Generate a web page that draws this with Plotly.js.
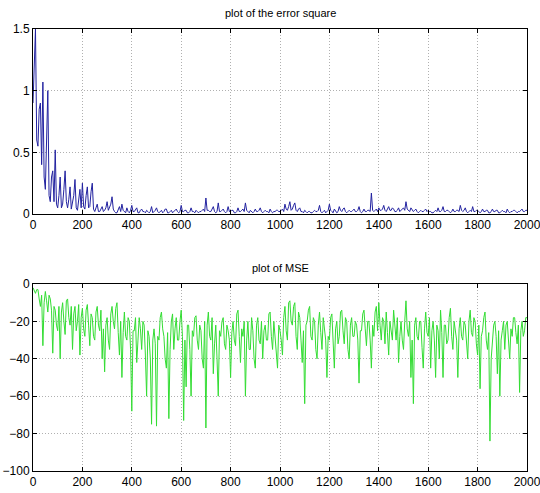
<!DOCTYPE html>
<html>
<head>
<meta charset="utf-8">
<script src="https://cdn.plot.ly/plotly-3.0.1.min.js"></script>
<style>html,body{margin:0;padding:0;background:#fff;}#chart{width:540px;height:493px;}</style>
</head>
<body>
<div id="chart"></div>
<script>
// sample spacing (iterations) of the values
var xStep = 5;

// error square, read every 5 iterations (one row = 100 iterations)
var errorSquare = [
  0.9,1.15,1.5,0.6,0.55,0.85,0.9,0.4,1.07,0.3, 0.2,0.6,1.0,0.15,0.1,0.3,0.35,0.1,0.52,0.08,
  0.05,0.15,0.3,0.05,0.08,0.2,0.35,0.1,0.05,0.12, 0.22,0.04,0.1,0.15,0.28,0.05,0.03,0.1,0.2,0.05,
  0.25,0.06,0.04,0.15,0.22,0.05,0.06,0.18,0.25,0.04, 0.02,0.05,0.08,0.02,0.02,0.04,0.06,0.02,0.03,0.05,
  0.1,0.03,0.05,0.08,0.14,0.04,0.02,0.01,0.01,0.03, 0.06,0.02,0.08,0.03,0.02,0.01,0.05,0.02,0.01,0.03,
  0.07,0.02,0.02,0.04,0.05,0.01,0.01,0.03,0.04,0.02, 0.02,0.01,0.03,0.02,0.01,0.02,0.06,0.01,0.02,0.03,
  0.05,0.02,0.01,0.02,0.03,0.01,0.02,0.04,0.04,0.01, 0.01,0.02,0.03,0.01,0.02,0.03,0.04,0.02,0.01,0.02,
  0.07,0.02,0.02,0.03,0.03,0.01,0.01,0.02,0.05,0.02, 0.02,0.01,0.03,0.02,0.01,0.02,0.02,0.03,0.04,0.02,
  0.13,0.03,0.03,0.02,0.02,0.04,0.06,0.02,0.01,0.02, 0.09,0.02,0.02,0.03,0.04,0.02,0.01,0.02,0.06,0.02,
  0.02,0.03,0.03,0.01,0.01,0.02,0.05,0.02,0.02,0.03, 0.04,0.02,0.09,0.03,0.02,0.01,0.03,0.02,0.01,0.02,
  0.04,0.02,0.02,0.03,0.05,0.02,0.01,0.02,0.03,0.02, 0.02,0.01,0.04,0.02,0.01,0.02,0.02,0.03,0.03,0.02,
  0.02,0.03,0.04,0.02,0.08,0.04,0.03,0.06,0.1,0.03, 0.04,0.07,0.09,0.03,0.02,0.04,0.05,0.02,0.02,0.01,
  0.03,0.02,0.01,0.02,0.02,0.01,0.01,0.02,0.03,0.02, 0.02,0.03,0.07,0.02,0.01,0.02,0.03,0.01,0.02,0.03,
  0.08,0.03,0.02,0.01,0.04,0.02,0.01,0.02,0.06,0.03, 0.02,0.04,0.05,0.02,0.01,0.02,0.03,0.02,0.02,0.03,
  0.04,0.02,0.02,0.03,0.06,0.02,0.01,0.02,0.04,0.02, 0.02,0.03,0.03,0.02,0.17,0.03,0.02,0.03,0.04,0.02,
  0.05,0.03,0.03,0.04,0.07,0.03,0.02,0.04,0.06,0.03, 0.03,0.05,0.04,0.02,0.02,0.03,0.05,0.02,0.03,0.04,
  0.05,0.03,0.1,0.04,0.03,0.02,0.05,0.03,0.02,0.03, 0.04,0.02,0.01,0.02,0.03,0.02,0.02,0.03,0.04,0.02,
  0.03,0.02,0.02,0.01,0.01,0.02,0.03,0.02,0.05,0.02, 0.02,0.03,0.06,0.02,0.02,0.03,0.03,0.02,0.01,0.02,
  0.04,0.02,0.02,0.03,0.03,0.02,0.07,0.03,0.02,0.03, 0.05,0.02,0.01,0.02,0.03,0.02,0.06,0.02,0.02,0.03,
  0.03,0.02,0.01,0.02,0.04,0.02,0.02,0.03,0.03,0.01, 0.01,0.02,0.04,0.02,0.02,0.03,0.03,0.01,0.01,0.02,
  0.03,0.02,0.02,0.01,0.04,0.02,0.01,0.02,0.02,0.03, 0.03,0.02,0.01,0.02,0.02,0.03,0.04,0.02,0.02,0.03,
  0.03
];

// MSE (dB), read every 5 iterations (one row = 100 iterations)
var mse = [
  -2,-4,-5,-3,-3,-8,-12,-6,-33,-10, -4,-9,-15,-6,-8,-14,-37,-12,-14,-22,
  -25,-12,-40,-15,-10,-20,-27,-9,-8,-18, -22,-12,-35,-16,-12,-25,-20,-11,-38,-18,
  -13,-24,-28,-14,-11,-22,-33,-16,-18,-28, -30,-15,-12,-22,-25,-14,-40,-24,-47,-22,
  -18,-30,-35,-16,-12,-20,-24,-13,-10,-26, -38,-20,-50,-26,-15,-28,-30,-18,-20,-35,
  -68,-25,-25,-18,-42,-30,-18,-24,-35,-20, -22,-38,-60,-25,-28,-40,-75,-30,-24,-32,
  -76,-28,-30,-18,-15,-24,-28,-40,-45,-26, -72,-35,-20,-16,-35,-24,-18,-30,-30,-20,
  -14,-28,-73,-30,-55,-22,-22,-35,-60,-25, -28,-18,-17,-30,-35,-22,-25,-40,-45,-20,
  -77,-22,-15,-28,-30,-18,-48,-32,-22,-40, -60,-25,-28,-20,-18,-32,-35,-22,-25,-30,
  -50,-26,-20,-30,-33,-16,-14,-28,-42,-24, -28,-20,-60,-30,-20,-35,-35,-18,-25,-40,
  -45,-22,-18,-30,-32,-20,-40,-25,-22,-30, -30,-16,-15,-28,-35,-20,-27,-38,-45,-22,
  -25,-30,-38,-18,-12,-25,-30,-10,-9,-20, -22,-12,-10,-28,-35,-15,-18,-30,-42,-25,
  -64,-22,-20,-14,-12,-28,-30,-18,-20,-35, -40,-22,-15,-26,-35,-18,-25,-30,-50,-28,
  -30,-18,-16,-28,-45,-24,-20,-32,-28,-15, -14,-25,-32,-18,-20,-35,-40,-22,-18,-28,
  -28,-20,-22,-30,-53,-25,-25,-16,-14,-24, -33,-20,-20,-30,-45,-22,-28,-15,-12,-25,
  -10,-22,-30,-18,-20,-32,-15,-26,-38,-20, -25,-30,-14,-22,-30,-18,-42,-28,-20,-30,
  -35,-20,-9,-24,-28,-20,-50,-30,-64,-22, -18,-28,-30,-20,-20,-34,-45,-24,-15,-26,
  -28,-18,-45,-25,-20,-30,-50,-22,-25,-40, -14,-26,-50,-22,-22,-32,-30,-18,-13,-28,
  -35,-20,-25,-30,-50,-24,-18,-28,-30,-20, -22,-34,-40,-20,-14,-26,-28,-18,-20,-32,
  -38,-22,-56,-28,-25,-18,-15,-30,-35,-26, -84,-40,-30,-22,-20,-28,-48,-25,-60,-30,
  -25,-20,-35,-22,-20,-30,-40,-24,-28,-18, -18,-26,-32,-22,-58,-25,-20,-28,-25,-18,
  -18
];

var xTicks = [0, 200, 400, 600, 800, 1000, 1200, 1400, 1600, 1800, 2000];
var errTicks = [0, 0.5, 1, 1.5];
var mseTicks = [0, -20, -40, -60, -80, -100];

function iters(arr) { return arr.map(function (_, i) { return i * xStep; }); }

var font = {family: 'Liberation Sans, Arial, sans-serif', size: 12, color: '#000'};

var axisCommon = {
  showline: true, mirror: 'ticks', linecolor: '#000', linewidth: 1,
  ticks: 'inside', ticklen: 4, tickcolor: '#000',
  showgrid: true, gridcolor: '#b0b0b0', griddash: '1px,2px', gridwidth: 1,
  zeroline: false, tickfont: font, fixedrange: true, ticklabeloverflow: 'allow'
};

function ax(extra) { return Object.assign({}, axisCommon, extra); }

var traces = [
  {x: iters(errorSquare), y: errorSquare, type: 'scatter', mode: 'lines',
   line: {color: '#2222a0', width: 1}, xaxis: 'x', yaxis: 'y', hoverinfo: 'skip'},
  {x: iters(mse), y: mse, type: 'scatter', mode: 'lines',
   line: {color: '#33dd33', width: 1}, xaxis: 'x2', yaxis: 'y2', hoverinfo: 'skip'}
];

var layout = {
  width: 540, height: 493,
  margin: {l: 33, r: 13, t: 29, b: 22},
  paper_bgcolor: '#fff', plot_bgcolor: '#fff',
  showlegend: false,
  font: font,
  xaxis: ax({domain: [0, 1], range: [0, 2000], tickvals: xTicks, anchor: 'y'}),
  yaxis: ax({domain: [0.5814, 1], range: [0, 1.5], tickvals: errTicks, anchor: 'x'}),
  xaxis2: ax({domain: [0, 1], range: [0, 2000], tickvals: xTicks, anchor: 'y2'}),
  yaxis2: ax({domain: [0, 0.4231], range: [-100, 0], tickvals: mseTicks, anchor: 'x2'}),
  annotations: [
    {text: 'plot of the error square', xref: 'paper', yref: 'paper', x: 0.5, y: 1,
     yshift: 8, xanchor: 'center', yanchor: 'bottom', showarrow: false,
     font: {family: font.family, size: 11, color: '#000'}},
    {text: 'plot of MSE', xref: 'paper', yref: 'paper', x: 0.5, y: 0.4231,
     yshift: 8, xanchor: 'center', yanchor: 'bottom', showarrow: false,
     font: {family: font.family, size: 11, color: '#000'}}
  ]
};

Plotly.newPlot('chart', traces, layout, {displayModeBar: false, staticPlot: true});
</script>
</body>
</html>
